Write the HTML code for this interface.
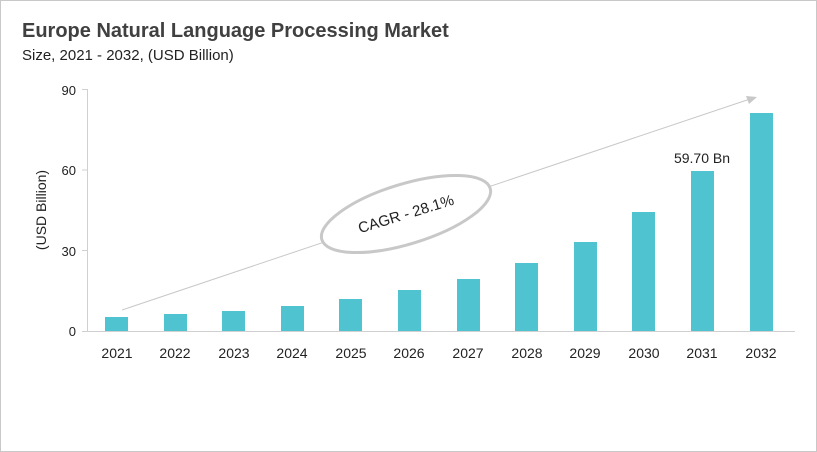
<!DOCTYPE html><html><head><style>body{margin:0;background:#fff}svg{display:block;font-family:"Liberation Sans",sans-serif}</style></head><body>
<svg width="817" height="452" xmlns="http://www.w3.org/2000/svg">
<rect x="0.5" y="0.5" width="816" height="451" fill="#fff" stroke="#c8c8c8"/>
<text x="22" y="37" font-size="20" font-weight="bold" fill="#404040">Europe Natural Language Processing Market</text>
<text x="22" y="60" font-size="15" fill="#222">Size, 2021 - 2032, (USD Billion)</text>
<g stroke="#d0d0d0" stroke-width="1">
<line x1="87.5" y1="89" x2="87.5" y2="331"/>
<line x1="87" y1="331.5" x2="795" y2="331.5"/>
<line x1="82" y1="89.5" x2="87" y2="89.5"/><line x1="82" y1="170" x2="87" y2="170"/><line x1="82" y1="250.5" x2="87" y2="250.5"/><line x1="82" y1="331.5" x2="87" y2="331.5"/>
</g>
<g font-size="13" fill="#222" text-anchor="end">
<text x="76" y="95">90</text><text x="76" y="175">60</text><text x="76" y="256">30</text><text x="76" y="336">0</text>
</g>
<text transform="translate(46,210) rotate(-90)" font-size="14" fill="#222" text-anchor="middle">(USD Billion)</text>
<g fill="#4fc3cf">
<rect x="105" y="317" width="23" height="14"/>
<rect x="164" y="314" width="23" height="17"/>
<rect x="222" y="311" width="23" height="20"/>
<rect x="281" y="306" width="23" height="25"/>
<rect x="339" y="299" width="23" height="32"/>
<rect x="398" y="290" width="23" height="41"/>
<rect x="457" y="279" width="23" height="52"/>
<rect x="515" y="263" width="23" height="68"/>
<rect x="574" y="242" width="23" height="89"/>
<rect x="632" y="212" width="23" height="119"/>
<rect x="691" y="171" width="23" height="160"/>
<rect x="750" y="113" width="23" height="218"/>
</g>
<g font-size="14" fill="#222" text-anchor="middle">
<text x="117" y="358">2021</text><text x="175" y="358">2022</text><text x="234" y="358">2023</text><text x="292" y="358">2024</text><text x="351" y="358">2025</text><text x="409" y="358">2026</text><text x="468" y="358">2027</text><text x="527" y="358">2028</text><text x="585" y="358">2029</text><text x="644" y="358">2030</text><text x="702" y="358">2031</text><text x="761" y="358">2032</text>
</g>
<text x="702" y="163" font-size="14" fill="#222" text-anchor="middle">59.70 Bn</text>
<line x1="122" y1="310" x2="750" y2="99" stroke="#c8c8c8" stroke-width="1"/>
<polygon points="757,97 746,96 749,104" fill="#c8c8c8"/>
<ellipse cx="406" cy="214" rx="88" ry="30" transform="rotate(-17 406 214)" fill="#fff" stroke="#c8c8c8" stroke-width="3"/>
<text x="406" y="219" font-size="15" fill="#222" text-anchor="middle" transform="rotate(-17 406 214)">CAGR - 28.1%</text>
</svg></body></html>
